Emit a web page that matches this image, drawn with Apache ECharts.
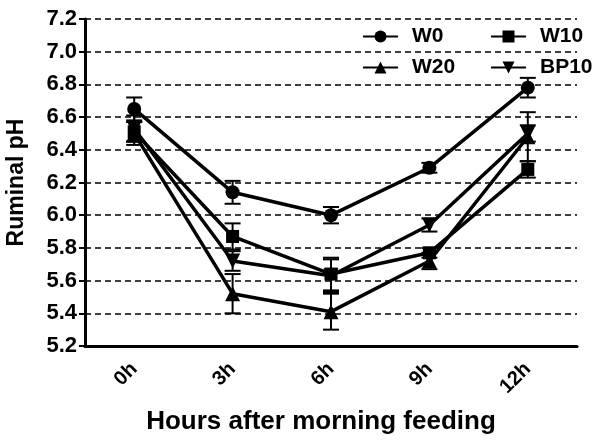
<!DOCTYPE html>
<html>
<head>
<meta charset="utf-8">
<script src="https://cdn.jsdelivr.net/npm/echarts@6/dist/echarts.min.js"></script>
<style>html,body{margin:0;padding:0;background:#fff}#c{width:600px;height:442px}</style>
</head>
<body>
<div id="c"></div>
<script>
var categories = ['0h', '3h', '6h', '9h', '12h'];
var W0 = [6.65, 6.14, 6.00, 6.29, 6.78];
var W10 = [6.51, 5.87, 5.64, 5.77, 6.28];
var W20 = [6.50, 5.52, 5.41, 5.72, 6.48];
var BP10 = [6.53, 5.72, 5.63, 5.94, 6.50];
var W0_err = [0.07, 0.07, 0.05, 0.03, 0.06];
var W10_err = [0.06, 0.08, 0.10, 0.03, 0.05];
var W20_err = [0.07, 0.12, 0.11, 0.05, 0.15];
var BP10_err = [0.08, 0.06, 0.10, 0.04, 0.05];
var yTicks = [5.2, 5.4, 5.6, 5.8, 6.0, 6.2, 6.4, 6.6, 6.8, 7.0, 7.2];

var FONT = '"Liberation Sans", Arial, sans-serif';
var chart = echarts.init(document.getElementById('c'));

function errData(vals, errs) {
  return vals.map(function (v, i) { return [i, v - errs[i], v + errs[i]]; });
}
function errSeries(name, vals, errs) {
  return {
    type: 'custom',
    name: name + '_err',
    z: 1,
    data: errData(vals, errs),
    renderItem: function (params, api) {
      var x = api.value(0);
      var lo = api.coord([x, api.value(1)]);
      var hi = api.coord([x, api.value(2)]);
      var hw = 8;
      var st = { stroke: '#000', lineWidth: 2 };
      return {
        type: 'group',
        children: [
          { type: 'line', shape: { x1: lo[0], y1: lo[1], x2: hi[0], y2: hi[1] }, style: st },
          { type: 'line', shape: { x1: lo[0] - hw, y1: lo[1], x2: lo[0] + hw, y2: lo[1] }, style: st },
          { type: 'line', shape: { x1: hi[0] - hw, y1: hi[1], x2: hi[0] + hw, y2: hi[1] }, style: st }
        ]
      };
    }
  };
}
function lineSeries(name, vals, symbol, size) {
  return {
    type: 'line',
    name: name,
    data: vals,
    symbol: symbol,
    symbolSize: size,
    showAllSymbol: true,
    z: 3,
    lineStyle: { color: '#000', width: 3.5 },
    itemStyle: { color: '#000', borderColor: '#000', borderWidth: 0 },
    emphasis: { disabled: true }
  };
}

var legendCommon = {
  orient: 'vertical',
  itemWidth: 35,
  itemHeight: 15,
  itemGap: 10,
  textStyle: { fontFamily: FONT, fontWeight: 'bold', fontSize: 21, color: '#000', padding: [0, 0, 0, 9] },
  selectedMode: false
};

chart.setOption({
  animation: false,
  backgroundColor: '#fff',
  grid: { left: 85, right: 23, top: 19, bottom: 96, containLabel: false, outerBoundsMode: 'none' },
  legend: [
    Object.assign({}, legendCommon, { data: ['W0', 'W20'], left: 357, top: 21 }),
    Object.assign({}, legendCommon, { data: ['W10', 'BP10'], left: 485, top: 21 })
  ],
  xAxis: {
    type: 'category',
    data: categories,
    boundaryGap: true,
    name: 'Hours after morning feeding',
    nameLocation: 'middle',
    nameGap: 63,
    nameTextStyle: { fontFamily: FONT, fontWeight: 'bold', fontSize: 26, color: '#000', padding: [0, 20, 0, 0] },
    axisLine: { lineStyle: { color: '#000', width: 3 } },
    axisTick: { alignWithLabel: true, length: 7, lineStyle: { color: '#000', width: 3 } },
    axisLabel: { rotate: 45, margin: 20, padding: [12, 0, 0, 0], fontFamily: FONT, fontWeight: 'bold', fontSize: 20, color: '#000' },
    splitLine: { show: false }
  },
  yAxis: {
    type: 'value',
    min: yTicks[0],
    max: yTicks[yTicks.length - 1],
    interval: 0.2,
    name: 'Ruminal pH',
    nameLocation: 'middle',
    nameGap: 57,
    nameTextStyle: { fontFamily: FONT, fontWeight: 'bold', fontSize: 23, color: '#000' },
    axisLine: { show: true, lineStyle: { color: '#000', width: 3 } },
    axisTick: { show: true, length: 6, lineStyle: { color: '#000', width: 2 } },
    axisLabel: {
      margin: 8, fontFamily: FONT, fontWeight: 'bold', fontSize: 22, color: '#000',
      formatter: function (v) { return v.toFixed(1); }
    },
    splitLine: { show: true, lineStyle: { color: '#000', width: 1.5, type: [6, 4] } }
  },
  series: [
    errSeries('W0', W0, W0_err),
    errSeries('W10', W10, W10_err),
    errSeries('W20', W20, W20_err),
    errSeries('BP10', BP10, BP10_err),
    lineSeries('W0', W0, 'circle', 14),
    lineSeries('W10', W10, 'rect', 13),
    lineSeries('W20', W20, 'triangle', 15),
    lineSeries('BP10', BP10, 'path://M0,0 L10,0 L5,9 Z', 15)
  ]
});
</script>
</body>
</html>
